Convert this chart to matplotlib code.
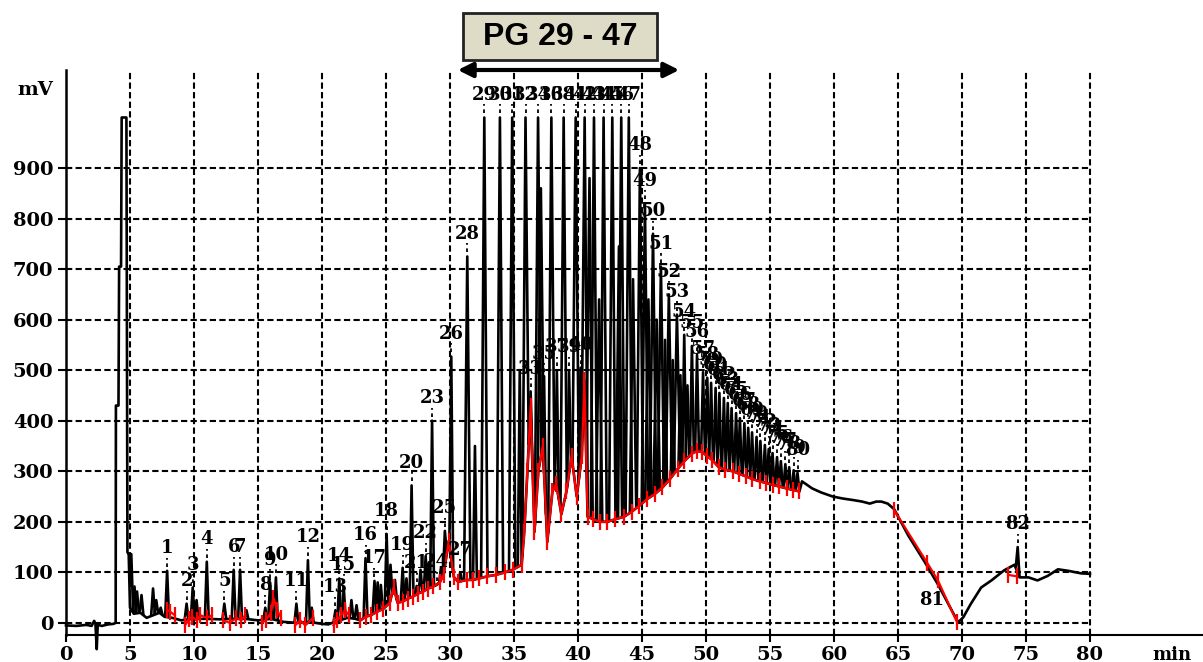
import numpy as np
import matplotlib.pyplot as plt
from matplotlib.collections import LineCollection
from matplotlib.patches import Rectangle, FancyArrowPatch

# labelled peaks: number, retention time (min), height (mV)
peak_num = list(range(1, 81)) + [82]
peak_t = [7.9, 9.42, 9.9, 11.0, 12.37, 13.1, 13.6, 15.57, 15.95, 16.4,
          18.0, 18.9, 21.05, 21.35, 21.7, 23.4, 24.1, 25.05, 26.3, 27.0,
          27.4, 28.1, 28.6, 28.95, 29.6, 30.1, 30.8, 31.35, 32.68, 33.9,
          34.86, 35.9, 36.3, 36.88, 37.35, 37.92, 38.35, 38.88, 39.3, 40.2,
          39.82, 40.52, 41.25, 42.0, 42.68, 43.38, 43.97, 44.84, 45.23, 45.86,
          46.48, 47.1, 47.73, 48.3, 48.9, 49.3, 49.77, 50.1, 50.4, 50.75,
          51.05, 51.4, 51.7, 52.0, 52.35, 52.65, 53.0, 53.3, 53.6, 53.95,
          54.25, 54.6, 54.9, 55.2, 55.55, 55.85, 56.2, 56.5, 56.85, 57.15,
          74.35]
peak_h = [103, 38, 70, 121, 38, 105, 105, 30, 80, 90,
          38, 124, 25, 88, 70, 128, 83, 176, 109, 272,
          73, 132, 400, 75, 182, 527, 100, 725, 1000, 1000,
          1000, 1000, 458, 1000, 488, 1000, 500, 1000, 500, 505,
          1000, 1000, 1000, 1000, 1000, 1000, 1000, 900, 830, 770,
          705, 650, 610, 570, 548, 530, 496, 485, 475, 465,
          455, 445, 435, 425, 415, 405, 395, 386, 377, 368,
          360, 352, 344, 336, 328, 320, 314, 308, 302, 297,
          150]

# unlabelled peaks
extra_t = [5.1, 5.35, 5.55, 5.9, 6.8, 7.05, 7.4, 10.2, 14.1, 19.2,
           22.3, 22.7, 24.35, 24.6, 25.35, 25.7, 26.6, 27.7, 28.35, 29.3,
           31.95, 35.45, 37.1, 40.9, 41.65, 43.2, 44.3, 45.5, 46.15, 46.8,
           47.4, 48.0, 48.55]
extra_h = [136, 72, 62, 55, 68, 45, 30, 45, 25, 30,
           45, 35, 80, 75, 115, 85, 88, 105, 120, 110,
           350, 500, 860, 880, 640, 745, 680, 640, 600, 560,
           520, 490, 470]

# black trace outside the integrated region
pre_t = [0, 0.8, 1.6, 2.0, 2.2, 2.3, 2.4, 2.48, 2.8, 3.3, 3.7, 3.88, 3.9, 4.1,
         4.15, 4.3, 4.35, 4.72, 4.8, 4.9, 5.0, 5.3, 5.8, 6.3, 6.8, 7.3, 7.7,
         8.3, 9.0, 10.0, 11.0, 12.0, 13.0, 14.0, 15.0, 16.0, 17.0, 18.0,
         19.0, 20.0, 20.5, 21.0, 22.0, 22.6]
pre_v = [-5, -6, -4, -6, 4, -2, -52, -4, -6, -3, -2, 0, 430, 430,
         705, 705, 1000, 1000, 140, 135, 30, 18, 20, 10, 15, 20, 12,
         10, 5, 8, 8, 7, 8, 8, 5, 8, 2, 0,
         2, -2, -3, 2, 10, 8]
post_t = [57.5, 58.3, 59.0, 59.9, 60.7, 61.5, 62.2, 62.8, 63.3, 63.7, 64.2,
          64.7, 65.8, 67.1, 68.1, 68.65, 69.7, 70.1, 70.7, 71.5, 72.3, 73.3,
          74.1, 74.5, 75.2, 75.9, 76.7, 77.5, 78.3, 79.3, 80.0]
post_v = [280, 266, 258, 250, 246, 243, 240, 236, 240, 240, 236,
          225, 173, 120, 77, 51, 1, 11, 38, 70, 84, 104,
          115, 90, 90, 84, 93, 106, 103, 98, 97]

# red integration baseline (segments)
red_segments = [
    ([7.9, 8.15, 8.5], [25, 22, 15]),
    ([9.3, 9.6, 9.85, 10.2, 10.5, 11.0, 11.4], [-5, 8, 12, 5, 15, 10, 15]),
    ([12.3, 12.8, 13.3, 13.7, 14.0], [5, 0, 10, 5, 15]),
    ([15.3, 15.6, 16.0, 16.2, 16.5, 16.8], [0, 5, 20, 50, 25, 10]),
    ([17.9, 18.3, 18.7, 19.3], [-5, 5, -5, 10]),
    ([20.9, 21.2, 21.5, 21.8, 22.1], [-5, 5, 15, 25, 15]),
    ([64.7, 67.3, 68.1, 69.6], [223, 118, 85, 2]),
    ([73.6, 74.3], [95, 92]),
]
red_main_t = [23.0, 23.4, 23.8, 24.3, 24.8, 25.3, 25.6, 25.9, 26.3, 26.7,
              27.1, 27.5, 27.9, 28.3, 28.7, 29.2, 29.5, 29.9, 30.3, 30.65,
              31.3, 31.8, 32.3, 32.9, 33.6, 34.3, 34.9, 35.6, 35.8, 36.05,
              36.3, 36.6, 36.9, 37.25, 37.6, 38.0, 38.3, 38.7, 39.1, 39.5,
              39.9, 40.3, 40.5, 40.75, 41.2, 41.7, 42.3, 42.9, 43.6, 44.2,
              44.8, 45.4, 46.0, 46.6, 47.2, 47.8, 48.3, 48.9, 49.3, 49.7,
              50.1, 50.5, 51.0, 51.5, 52.1, 52.6, 53.1, 53.6, 54.2, 54.7,
              55.2, 55.7, 56.3, 56.8, 57.3]
red_main_v = [5, 12, 15, 22, 28, 40, 71, 40, 42, 48,
              52, 58, 62, 68, 72, 80, 95, 162, 91, 81,
              85, 85, 88, 92, 95, 100, 105, 115, 180, 300,
              430, 180, 300, 350, 160, 260, 275, 215, 260, 330,
              250, 330, 480, 210, 205, 200, 200, 205, 210, 220,
              232, 245, 255, 268, 285, 305, 320, 335, 340, 338,
              330, 322, 308, 303, 300, 295, 290, 285, 280, 277,
              273, 270, 266, 263, 260]

bg_t = np.concatenate([pre_t, red_main_t, post_t])
bg_v = np.concatenate([pre_v, red_main_v, post_v])

serif = dict(family='DejaVu Serif', fontweight='bold')

fig = plt.figure(figsize=(12.03, 6.62), dpi=100)
ax = fig.add_axes([66 / 1203, 27 / 662, 1137 / 1203, 565 / 662])
ax.set_xlim(0, 88.83)
ax.set_ylim(-24, 1094)

# grid
dash = (0, (3, 1.6))
ax.hlines(np.arange(0, 1000, 100), 0, 80, colors='black', lw=1.5, linestyles=[dash], zorder=1)
ax.vlines(np.arange(5, 85, 5), -24, 1094, colors='black', lw=1.5, linestyles=[dash], zorder=1)

# chromatogram
ax.plot(bg_t, bg_v, color='black', lw=1.9, zorder=2, clip_on=False)
segs = []
for t, h in zip(peak_t + extra_t, peak_h + extra_h):
    w = 0.25 if h >= 600 else 0.15
    b0 = np.interp(t - w, bg_t, bg_v)
    b1 = np.interp(t + w, bg_t, bg_v)
    segs.append([(t - w, b0), (t, h), (t + w, b1)])
ax.add_collection(LineCollection(segs, colors='black', lw=1.9, zorder=2))

# red baseline with integration marks
for rt, rv in red_segments + [(red_main_t, red_main_v)]:
    ax.plot(rt, rv, color='red', lw=1.6, marker='|', ms=11, mew=1.6, zorder=3)

# peak labels
for n, t, h in zip(peak_num, peak_t, peak_h):
    ax.vlines(t, h + 8, h + 26, colors='black', lw=1.3, linestyles=[(0, (2, 2))], zorder=4)
    ax.text(t, h + 45, str(n), ha='center', va='center', fontsize=13, zorder=5, **serif)
ax.text(67.6, 45, '81', ha='center', va='center', fontsize=13, zorder=5, **serif)

# axes
for s in ['top', 'right']:
    ax.spines[s].set_visible(False)
ax.spines['left'].set_linewidth(1.8)
ax.spines['bottom'].set_linewidth(1.5)
ax.set_xticks(np.arange(0, 85, 5))
ax.set_yticks(np.arange(0, 1000, 100))
ax.tick_params(axis='x', length=5, width=1.5, pad=3)
ax.tick_params(axis='y', length=6, width=1.5, pad=3)
for lab in ax.get_xticklabels() + ax.get_yticklabels():
    lab.set_fontfamily('DejaVu Serif')
    lab.set_fontweight('bold')
    lab.set_fontsize(14)

fig.text(35 / 1203, 1 - 90 / 662, 'mV', ha='center', va='center', fontsize=14, **serif)
fig.text(1172 / 1203, 1 - 655 / 662, 'min', ha='center', va='center', fontsize=13, **serif)

# title box and arrow
fig.add_artist(Rectangle((463 / 1203, 1 - 60 / 662), 194 / 1203, 47 / 662,
                         transform=fig.transFigure, facecolor='#dedbc6',
                         edgecolor='#222222', lw=2))
fig.text(560 / 1203, 1 - 37 / 662, 'PG 29 - 47', ha='center', va='center',
         fontsize=23, fontweight='bold', family='Liberation Sans')
fig.add_artist(FancyArrowPatch(
    (455 / 1203, 1 - 70 / 662), (682 / 1203, 1 - 70 / 662),
    transform=fig.transFigure, arrowstyle='<|-|>', mutation_scale=22,
    lw=3, color='black'))

fig.savefig('out.png', dpi=100)
